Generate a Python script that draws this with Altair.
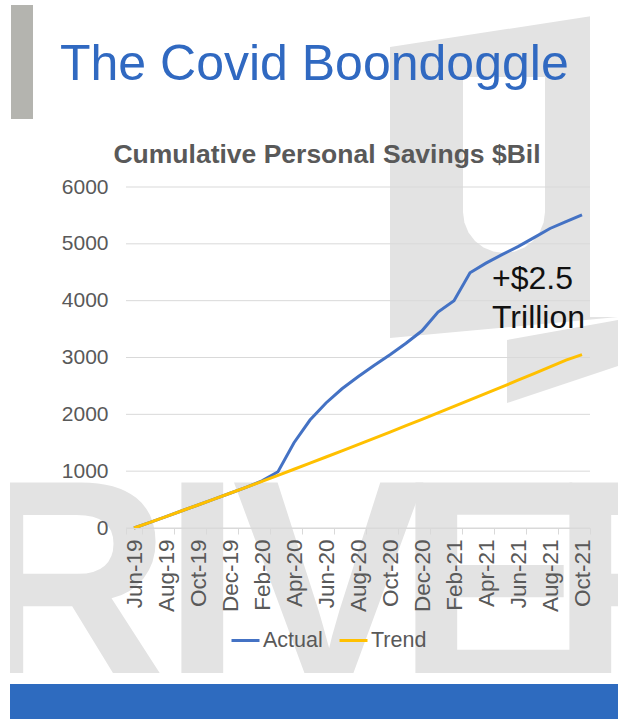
import math

import altair as alt
import pandas as pd

# ---- data -------------------------------------------------------------
months = [
    "Jun-19", "Jul-19", "Aug-19", "Sep-19", "Oct-19", "Nov-19", "Dec-19",
    "Jan-20", "Feb-20", "Mar-20", "Apr-20", "May-20", "Jun-20", "Jul-20",
    "Aug-20", "Sep-20", "Oct-20", "Nov-20", "Dec-20", "Jan-21", "Feb-21",
    "Mar-21", "Apr-21", "May-21", "Jun-21", "Jul-21", "Aug-21", "Sep-21",
    "Oct-21",
]
actual = [
    0, 100, 201, 303, 405, 508, 612, 716, 830, 990, 1500, 1900, 2200, 2450,
    2660, 2860, 3050, 3250, 3470, 3800, 4000, 4490, 4660, 4810, 4950, 5110,
    5270, 5390, 5510,
]
trend = [
    0, 100, 201, 303, 405, 508, 612, 716, 821, 927, 1034, 1141, 1249, 1358,
    1467, 1577, 1688, 1800, 1912, 2025, 2139, 2253, 2368, 2484, 2600, 2717,
    2835, 2953, 3050,
]
label_months = months[::2]
y_ticks = [0, 1000, 2000, 3000, 4000, 5000, 6000]
series = ["Actual", "Trend"]
series_colors = ["#4472C4", "#FFC000"]

df = pd.DataFrame({
    "month": months * 2,
    "series": [series[0]] * len(months) + [series[1]] * len(months),
    "value": actual + trend,
})
grid_df = pd.DataFrame({"value": y_ticks})

# ---- layout -----------------------------------------------------------
PAGE_W, PAGE_H = 618, 719
X0, Y0 = 126, 187          # top-left of the plot area on the page
W, H = 464, 341            # plot area size
FONT = "Liberation Sans"
MARK_FONT = "Liberation Sans Narrow, Liberation Sans"
TEXT_GRAY = "#595959"
GRID = "#d9d9d9"
WATERMARK = "#e3e3e3"
TITLE_BLUE = "#3069C1"
BAR_BLUE = "#2E6BBF"

one = alt.Data(values=[{"k": 1}])


def px(x):
    return x - X0


def py(y):
    return y - Y0


def polygon(points, color):
    """Filled polygon drawn as a custom symbol path (page pixel coords)."""
    xs = [p[0] for p in points]
    ys = [p[1] for p in points]
    cx = (min(xs) + max(xs)) / 2
    cy = (min(ys) + max(ys)) / 2
    r = max(max(xs) - min(xs), max(ys) - min(ys)) / 2 + 1
    path = "M" + " L".join(f"{(x - cx) / r:.5f},{(y - cy) / r:.5f}" for x, y in points) + " Z"
    return alt.Chart(one).mark_point(
        shape=path, filled=True, color=color, opacity=1, strokeWidth=0,
        size=(2 * r) ** 2,
    ).encode(x=alt.value(px(cx)), y=alt.value(py(cy)))


def rect(x1, y1, x2, y2, color):
    return alt.Chart(one).mark_rect(color=color).encode(
        x=alt.value(px(x1)), x2=alt.value(px(x2)),
        y=alt.value(py(y1)), y2=alt.value(py(y2)),
    )


def text(s, x, y, size, color, weight="normal", align="left", font=FONT, **kw):
    return alt.Chart(one).mark_text(
        text=s, font=font, fontSize=size, color=color, fontWeight=weight,
        align=align, baseline="alphabetic", **kw,
    ).encode(x=alt.value(px(x)), y=alt.value(py(y)))


# ---- background watermark --------------------------------------------
u_block = polygon([(390, 47), (618, 12), (618, 317), (390, 338)], WATERMARK)
u_hole = [(463, 77), (545, 77), (545, 212)]
for i in range(1, 12):
    a = math.pi * i / 12
    u_hole.append((504 + 41 * math.cos(a), 212 + 41 * math.sin(a)))
u_hole += [(463, 212)]
u_cut = polygon(u_hole, "white")
right_cut = rect(590, 12, 618, 317, "white")
wedge = polygon([(507, 340), (618, 320), (618, 366), (507, 403)], WATERMARK)

letters = [
    text("R", -38, 682, 290, WATERMARK, "bold", font=MARK_FONT),
    text("I", 162, 682, 290, WATERMARK, "bold", font=MARK_FONT),
    text("V", 232, 682, 290, WATERMARK, "bold", font=MARK_FONT),
    text("E", 396, 682, 290, WATERMARK, "bold", font=MARK_FONT),
    text("R", 550, 682, 290, WATERMARK, "bold", font=MARK_FONT),
]
left_margin = rect(0, 400, 10, 719, "white")
gap = rect(0, 673, PAGE_W, 684, "white")
bottom_bar = rect(10, 684, PAGE_W, PAGE_H, BAR_BLUE)
side_bar = rect(11, 5, 33, 119, "#B4B4AF")

# ---- chart ------------------------------------------------------------
y_enc = alt.Y(
    "value:Q",
    scale=alt.Scale(domain=[0, 6000], nice=False, zero=True),
    axis=alt.Axis(
        values=y_ticks, format="d", title=None, domain=False, ticks=False,
        grid=False, labelFont=FONT, labelFontSize=21, labelColor=TEXT_GRAY,
        labelPadding=18, zindex=1,
    ),
)

grid = alt.Chart(grid_df).mark_rule(color=GRID, strokeWidth=1).encode(
    y=y_enc, x=alt.value(0), x2=alt.value(W),
)

lines = alt.Chart(df).mark_line(strokeWidth=3).encode(
    x=alt.X(
        "month:O",
        sort=months,
        scale=alt.Scale(type="band", domain=months, paddingInner=0, paddingOuter=0),
        axis=alt.Axis(
            values=label_months, title=None, labelAngle=270, labelAlign="right",
            labelBaseline="middle", labelFont=FONT, labelFontSize=22.5,
            labelColor=TEXT_GRAY, labelPadding=5, labelOverlap=False,
            tickBand="extent", tickSize=6, tickColor=GRID, domainColor=GRID,
            grid=False, zindex=1,
        ),
    ),
    y=y_enc,
    color=alt.Color(
        "series:N",
        scale=alt.Scale(domain=series, range=series_colors),
        legend=alt.Legend(
            title=None, orient="none", legendX=px(230), legendY=py(625),
            direction="horizontal", symbolType="stroke", symbolSize=784,
            symbolStrokeWidth=3, labelFont=FONT, labelFontSize=21.5,
            labelColor=TEXT_GRAY, labelOffset=2, columnPadding=10,
            padding=0, zindex=1,
        ),
    ),
)

annotation = alt.Chart(one).mark_text(
    text="+$2.5\nTrillion", lineBreak="\n", lineHeight=39, font=FONT,
    fontSize=32, color="#111111", align="left", baseline="alphabetic",
).encode(x=alt.value(px(492)), y=alt.value(py(289)))

main_title = text("The Covid Boondoggle", 60, 80, 50, TITLE_BLUE)
chart_title = text("Cumulative Personal Savings $Bil", 327, 163, 26.5, TEXT_GRAY,
                   "bold", align="center")

chart = alt.layer(
    u_block, u_cut, right_cut, wedge, *letters, left_margin, gap,
    bottom_bar, side_bar, grid, lines, annotation, main_title, chart_title,
).properties(
    width=W, height=H,
    autosize=alt.AutoSizeParams(type="none"),
    padding={"left": X0, "top": Y0, "right": PAGE_W - X0 - W,
             "bottom": PAGE_H - Y0 - H},
    background="white",
).configure_view(strokeWidth=0)

chart.save("out.html", embed_options={"renderer": "svg", "actions": False})
